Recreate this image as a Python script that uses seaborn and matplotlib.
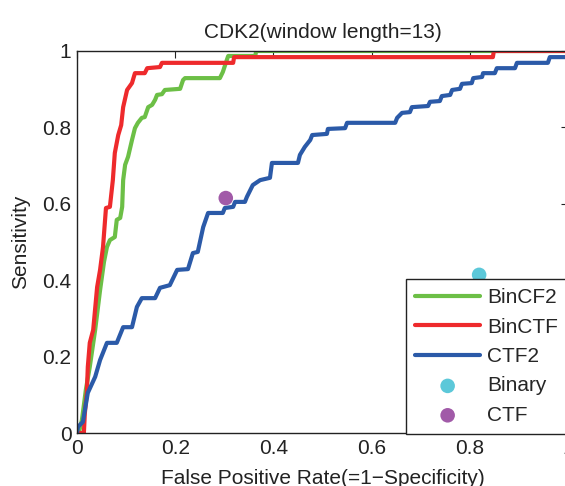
import matplotlib
matplotlib.use("Agg")
import matplotlib.pyplot as plt
import pandas as pd
import seaborn as sns

# ROC vertices (false positive rate, sensitivity) for each scoring method
bincf2_fpr = [0.0, 0.004, 0.006, 0.010, 0.014, 0.018, 0.026, 0.037, 0.047, 0.055, 0.061,
              0.067, 0.077, 0.081, 0.088, 0.092, 0.094, 0.098, 0.104, 0.112, 0.118, 0.124,
              0.132, 0.138, 0.145, 0.153, 0.159, 0.163, 0.173, 0.179, 0.210, 0.216, 0.220,
              0.291, 0.297, 0.305, 0.308, 0.363, 0.365, 1.0]
bincf2_tpr = [0.0, 0.0, 0.013, 0.034, 0.073, 0.113, 0.173, 0.270, 0.374, 0.448, 0.487,
              0.505, 0.513, 0.558, 0.563, 0.592, 0.662, 0.702, 0.723, 0.767, 0.798, 0.812,
              0.825, 0.827, 0.853, 0.859, 0.872, 0.885, 0.887, 0.898, 0.901, 0.924, 0.929,
              0.929, 0.945, 0.976, 0.987, 0.987, 1.0, 1.0]

binctf_fpr = [0.0, 0.014, 0.016, 0.020, 0.022, 0.026, 0.033, 0.041, 0.047, 0.053, 0.059,
              0.067, 0.073, 0.077, 0.084, 0.090, 0.094, 0.102, 0.112, 0.118, 0.138, 0.143,
              0.169, 0.173, 0.318, 0.320, 0.847, 0.849, 1.0]
binctf_tpr = [0.0, 0.0, 0.052, 0.105, 0.173, 0.236, 0.270, 0.382, 0.427, 0.487, 0.589,
              0.592, 0.662, 0.733, 0.780, 0.806, 0.853, 0.898, 0.916, 0.942, 0.942, 0.955,
              0.958, 0.969, 0.969, 0.984, 0.984, 1.0, 1.0]

ctf2_fpr = [0.0, 0.002, 0.012, 0.022, 0.037, 0.047, 0.061, 0.081, 0.094, 0.112, 0.122,
            0.132, 0.159, 0.169, 0.189, 0.204, 0.226, 0.236, 0.246, 0.257, 0.267, 0.297,
            0.301, 0.318, 0.322, 0.342, 0.346, 0.358, 0.373, 0.393, 0.397, 0.450, 0.454,
            0.464, 0.475, 0.479, 0.509, 0.511, 0.546, 0.550, 0.648, 0.652, 0.662, 0.678,
            0.682, 0.715, 0.719, 0.739, 0.743, 0.760, 0.764, 0.780, 0.784, 0.804, 0.807,
            0.825, 0.827, 0.851, 0.855, 0.892, 0.896, 0.959, 0.963, 1.0, 1.0]
ctf2_tpr = [0.0, 0.016, 0.029, 0.105, 0.147, 0.191, 0.236, 0.236, 0.277, 0.277, 0.330,
            0.353, 0.353, 0.380, 0.387, 0.427, 0.429, 0.471, 0.474, 0.539, 0.576, 0.576,
            0.589, 0.592, 0.605, 0.605, 0.618, 0.649, 0.662, 0.668, 0.707, 0.707, 0.728,
            0.749, 0.767, 0.780, 0.783, 0.796, 0.798, 0.812, 0.812, 0.825, 0.838, 0.840,
            0.853, 0.856, 0.867, 0.869, 0.882, 0.885, 0.898, 0.901, 0.914, 0.916, 0.929,
            0.932, 0.942, 0.942, 0.955, 0.955, 0.969, 0.969, 0.984, 0.984, 1.0]

# Single operating points
point_names = ["Binary", "CTF"]
point_fpr = [0.819, 0.303]
point_tpr = [0.414, 0.615]

curve_names = ["BinCF2", "BinCTF", "CTF2"]
curve_colors = ["#6cbf46", "#ee2a2c", "#2b5aa8"]
point_colors = ["#5cc8d9", "#a15aa8"]

sns.set_style("white")
plt.rcParams["font.family"] = ["Liberation Sans", "DejaVu Sans"]

fig = plt.figure(figsize=(5.65, 4.86), dpi=100)
ax = fig.add_axes([77 / 565, 53 / 486, 491 / 565, 382 / 486])

curves = [(bincf2_fpr, bincf2_tpr), (binctf_fpr, binctf_tpr), (ctf2_fpr, ctf2_tpr)]
for name, color, (fpr, tpr) in zip(curve_names, curve_colors, curves):
    df = pd.DataFrame({"fpr": fpr, "tpr": tpr})
    sns.lineplot(data=df, x="fpr", y="tpr", sort=False, estimator=None,
                 color=color, linewidth=3.0, label=name, ax=ax)

for name, color, fx, ty in zip(point_names, point_colors, point_fpr, point_tpr):
    pdf = pd.DataFrame({"fpr": [fx], "tpr": [ty]})
    sns.scatterplot(data=pdf, x="fpr", y="tpr", color=color, s=110,
                    edgecolor="none", label=name, ax=ax, zorder=5)

ax.set_xlim(0, 1)
ax.set_ylim(0, 1)
ax.set_xticks([0, 0.2, 0.4, 0.6, 0.8, 1.0])
ax.set_xticklabels(["0", "0.2", "0.4", "0.6", "0.8", "1"])
ax.set_yticks([0, 0.2, 0.4, 0.6, 0.8, 1.0])
ax.set_yticklabels(["0", "0.2", "0.4", "0.6", "0.8", "1"])
ax.tick_params(direction="in", top=True, right=True, length=5, width=0.8,
               labelsize=15, colors="#222222", pad=4)
for sp in ax.spines.values():
    sp.set_color("#222222")
    sp.set_linewidth(1.0)

ax.set_title("CDK2(window length=13)", fontsize=15, color="#222222", pad=9)
ax.set_xlabel("False Positive Rate(=1\u2212Specificity)", fontsize=15,
              color="#222222", labelpad=8)
ax.set_ylabel("Sensitivity", fontsize=15, color="#222222", labelpad=9)

leg = ax.legend(loc="lower left", bbox_to_anchor=(0.67, -0.003), fontsize=15,
                frameon=True, fancybox=False, framealpha=1, edgecolor="#222222",
                handlelength=3.1, handletextpad=0.35, labelspacing=0.50,
                borderpad=0.45, borderaxespad=0.0, scatterpoints=1)
leg.get_frame().set_linewidth(1.0)

fig.savefig("out.png", dpi=100)
